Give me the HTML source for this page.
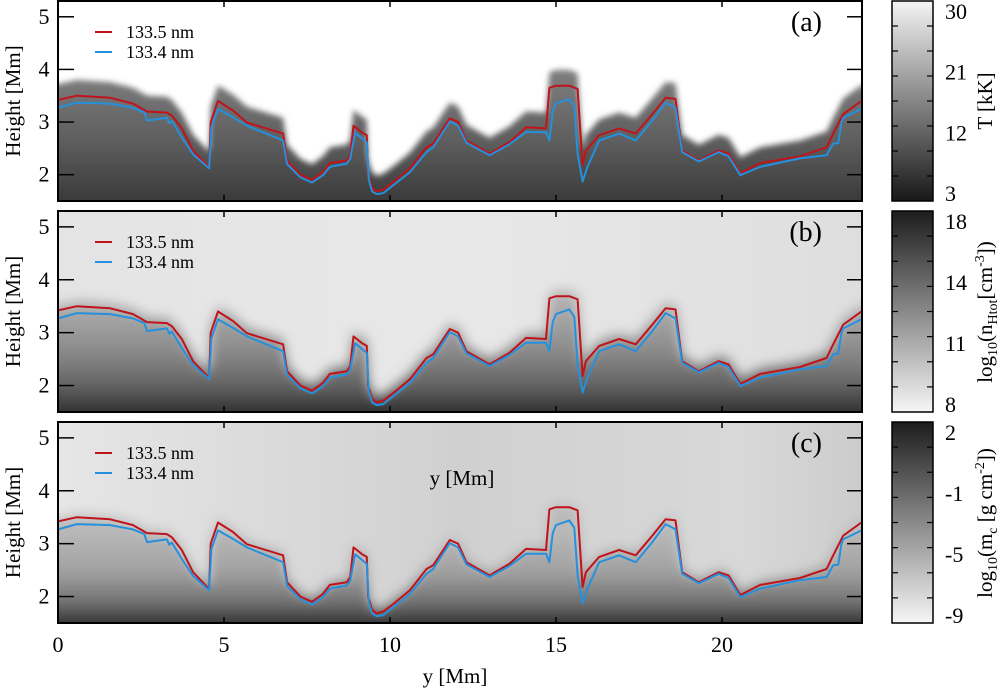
<!DOCTYPE html>
<html><head><meta charset="utf-8"><style>
html,body{margin:0;padding:0;background:#fff;}
svg{display:block;font-family:"Liberation Serif",serif;}
</style></head><body>
<svg id="fig" width="1000" height="689" viewBox="0 0 1000 689" xmlns="http://www.w3.org/2000/svg">
<defs>
<filter id="blur3" x="-5%" y="-20%" width="110%" height="140%"><feGaussianBlur stdDeviation="3"/></filter>
<filter id="blur6" x="-5%" y="-20%" width="110%" height="140%"><feGaussianBlur stdDeviation="6"/></filter>
<linearGradient id="cbA" x1="0" y1="0" x2="0" y2="1"><stop offset="0" stop-color="#f4f4f4"/><stop offset="1" stop-color="#181818"/></linearGradient>
<linearGradient id="cbB" x1="0" y1="0" x2="0" y2="1"><stop offset="0" stop-color="#1c1c1c"/><stop offset="1" stop-color="#f6f6f6"/></linearGradient>
</defs>
</svg>
<script>
// ---- data (x in Mm, height in Mm) ----
const redX = [0,0.57,1.57,2.26,2.68,3.28,3.43,3.73,4.07,4.55,4.6,4.82,5.27,5.69,6.78,6.9,7.3,7.65,7.98,8.19,8.7,8.8,8.9,9.16,9.3,9.34,9.46,9.6,9.8,10.1,10.6,11.1,11.3,11.8,12.05,12.3,13.0,13.6,14.1,14.7,14.8,15.0,15.4,15.65,15.8,15.9,16.3,16.9,17.4,17.9,18.3,18.6,18.8,19.3,19.9,20.2,20.55,21.15,22.35,23.15,23.35,23.65,24.2];
const redH = [3.42,3.5,3.46,3.35,3.2,3.18,3.12,2.88,2.46,2.14,3.0,3.4,3.22,2.99,2.78,2.27,2.0,1.9,2.05,2.22,2.27,2.37,2.93,2.8,2.75,2.0,1.75,1.68,1.72,1.86,2.12,2.52,2.59,3.07,3.0,2.65,2.4,2.62,2.9,2.88,3.65,3.69,3.69,3.63,2.18,2.46,2.75,2.88,2.78,3.15,3.46,3.44,2.46,2.27,2.46,2.4,2.03,2.22,2.35,2.52,2.78,3.15,3.4];
const blueX = [0,0.57,1.57,2.26,2.6,2.68,3.28,3.35,3.43,3.73,4.07,4.55,4.62,4.82,5.27,5.69,6.78,6.9,7.3,7.65,7.98,8.19,8.7,8.8,8.95,9.16,9.3,9.36,9.46,9.6,9.8,10.1,10.6,11.1,11.3,11.8,12.05,12.3,13.0,13.6,14.1,14.7,14.8,14.9,15.0,15.4,15.55,15.65,15.8,15.95,16.3,16.9,17.4,17.9,18.3,18.6,18.8,19.3,19.9,20.2,20.55,21.15,22.35,23.15,23.35,23.5,23.6,23.65,24.2];
const blueH = [3.27,3.37,3.35,3.27,3.18,3.03,3.08,2.98,3.02,2.71,2.39,2.12,2.9,3.25,3.09,2.93,2.65,2.2,1.95,1.85,1.99,2.15,2.21,2.3,2.8,2.69,2.62,1.9,1.68,1.63,1.65,1.8,2.05,2.43,2.52,3.01,2.93,2.61,2.37,2.58,2.81,2.81,2.65,3.2,3.35,3.44,3.3,2.4,1.87,2.15,2.65,2.78,2.65,3.03,3.37,3.27,2.43,2.25,2.43,2.35,1.99,2.15,2.31,2.37,2.59,2.6,3.0,3.08,3.25];
const xTicks = [0,5,10,15,20];
const yTicks = [2,3,4,5];
const panelLabels = ["(a)","(b)","(c)"];
const cbTickLabels = [["30","21","12","3"],["18","14","11","8"],["2","-1","-5","-9"]];

const NS="http://www.w3.org/2000/svg";
const svg=document.getElementById('fig');
function el(tag,attrs,parent){const e=document.createElementNS(NS,tag);for(const k in attrs)e.setAttribute(k,attrs[k]);(parent||svg).appendChild(e);return e;}
const X0=58,X1=862;
const HMIN=1.5,HMAX=5.3;
const panels=[{top:1,bot:201},{top:211,bot:412},{top:422,bot:623}];
function sx(v){return X0+v*33.2;}
function syf(p){return h=>p.bot-(h-HMIN)*(p.bot-p.top)/(HMAX-HMIN);}
function linePath(xs,hs,sy,off){return xs.map((v,i)=>(i?'L':'M')+sx(v).toFixed(1)+' '+sy(hs[i]+(off||0)).toFixed(1)).join(' ');}
function areaPath(xs,hs,sy,off,p){return linePath(xs,hs,sy,off)+` L ${X1+20} ${sy(hs[hs.length-1]+off)} L ${X1+20} ${p.bot+20} L ${X0-20} ${p.bot+20} L ${X0-20} ${sy(hs[0]+off)} Z`;}

const defs=svg.querySelector('defs');
panels.forEach((p,k)=>{
  const sy=syf(p);
  const cp=el('clipPath',{id:'clip'+k},defs);
  el('rect',{x:X0,y:p.top,width:X1-X0,height:p.bot-p.top},cp);
  const g=el('g',{'clip-path':`url(#clip${k})`});
  
  
  const gr=el('linearGradient',{id:'fg'+k,gradientUnits:'userSpaceOnUse',x1:0,y1:p.top,x2:0,y2:p.bot},defs);
  if(k===0){
    el('rect',{x:X0,y:p.top,width:X1-X0,height:p.bot-p.top,fill:'#ffffff'},g);
    [[0,'#9a9a9a'],[0.4,'#7a7a7a'],[0.7,'#5e5e5e'],[1,'#3a3a3a']].forEach(s=>el('stop',{offset:s[0],'stop-color':s[1]},gr));
    el('path',{d:areaPath(redX,redH,sy,0.3,p),fill:'url(#fg0)',filter:'url(#blur3)'},g);
  } else if(k===1){
    const bg=el('linearGradient',{id:'bg1',x1:0,y1:0,x2:1,y2:0},defs);
    [[0,'#e4e4e4'],[0.5,'#e8e8e8'],[1,'#dedede']].forEach(s=>el('stop',{offset:s[0],'stop-color':s[1]},bg));
    el('rect',{x:X0,y:p.top,width:X1-X0,height:p.bot-p.top,fill:'url(#bg1)'},g);
    [[0,'#c8c8c8'],[0.45,'#b0b0b0'],[0.7,'#8a8a8a'],[0.88,'#606060'],[1,'#2e2e2e']].forEach(s=>el('stop',{offset:s[0],'stop-color':s[1]},gr));
    el('path',{d:areaPath(redX,redH,sy,0.1,p),fill:'url(#fg1)',filter:'url(#blur6)'},g);
  } else {
    const bg=el('linearGradient',{id:'bg2',x1:0,y1:0,x2:1,y2:0},defs);
    [[0,'#e6e6e6'],[0.5,'#d0d0d0'],[0.85,'#d8d8d8'],[1,'#cccccc']].forEach(s=>el('stop',{offset:s[0],'stop-color':s[1]},bg));
    el('rect',{x:X0,y:p.top,width:X1-X0,height:p.bot-p.top,fill:'url(#bg2)'},g);
    [[0,'#c4c4c4'],[0.55,'#b8b8b8'],[0.75,'#a0a0a0'],[0.9,'#707070'],[1,'#333333']].forEach(s=>el('stop',{offset:s[0],'stop-color':s[1]},gr));
    el('path',{d:areaPath(redX,redH,sy,0.05,p),fill:'url(#fg2)',filter:'url(#blur6)'},g);
  }
  const r=el('path',{d:linePath(redX,redH,sy),fill:'none',stroke:'#c0141c','stroke-width':2,'stroke-linejoin':'round'},g);
  
  
  const b=el('path',{d:linePath(blueX,blueH,sy),fill:'none',stroke:'#2590dc','stroke-width':2,'stroke-linejoin':'round'},g);
  
  
  const fr=el('rect',{x:X0,y:p.top,width:X1-X0,height:p.bot-p.top,fill:'none',stroke:'#000','stroke-width':2});
  
  
  xTicks.forEach(v=>{
    el('line',{x1:sx(v),x2:sx(v),y1:p.top,y2:p.top+6,stroke:'#000','stroke-width':1.5});
    el('line',{x1:sx(v),x2:sx(v),y1:p.bot,y2:p.bot-6,stroke:'#000','stroke-width':1.5});
  });
  yTicks.forEach(v=>{
    el('line',{x1:X0,x2:X0+16,y1:sy(v),y2:sy(v),stroke:'#000','stroke-width':1.5});
    el('line',{x1:X1,x2:X1-15,y1:sy(v),y2:sy(v),stroke:'#000','stroke-width':1.5});
    const t=el('text',{x:44,y:sy(v)+7,'font-size':22,'text-anchor':'middle'});
    t.textContent=v;
    
    
  });
  const yt=el('text',{x:0,y:0,'font-size':21,'text-anchor':'middle',transform:`translate(20 ${(p.top+p.bot)/2}) rotate(-90)`});
  yt.textContent='Height [Mm]';
  
  
  const pl=el('text',{x:822,y:p.top+30,'font-size':28,'text-anchor':'end'});
  pl.textContent=panelLabels[k];
  
  
  const lg=el('g',{});
  
  
  el('line',{x1:95,x2:112,y1:p.top+31,y2:p.top+31,stroke:'#c0141c','stroke-width':2},lg);
  el('line',{x1:95,x2:112,y1:p.top+51,y2:p.top+51,stroke:'#2590dc','stroke-width':2},lg);
  const l1=el('text',{x:126,y:p.top+37,'font-size':18},lg);l1.textContent='133.5 nm';
  
  
  const l2=el('text',{x:126,y:p.top+57,'font-size':18},lg);l2.textContent='133.4 nm';
  
  
  const cb=el('rect',{x:892,y:p.top,width:41,height:p.bot-p.top,fill:k===0?'url(#cbA)':'url(#cbB)',stroke:'#000','stroke-width':1.5});
  
  
  const labs=cbTickLabels[k];
  for(let i=0;i<labs.length;i++){
    const ty=p.top+11+i*(p.bot-p.top-18)/3;
    const t=el('text',{x:945,y:ty+7,'font-size':22});
    t.textContent=labs[i];
    
    
  }
  for(let i=1;i<8;i++){
    const ty=p.top+i*(p.bot-p.top)/8;
    el('line',{x1:892,x2:898,y1:ty,y2:ty,stroke:'#000','stroke-width':1.2});
    el('line',{x1:933,x2:927,y1:ty,y2:ty,stroke:'#000','stroke-width':1.2});
  }
});
xTicks.forEach(v=>{
  const t=el('text',{x:sx(v),y:652,'font-size':22,'text-anchor':'middle'});
  t.textContent=v;
  
  
});
const xt=el('text',{x:455,y:683,'font-size':21,'text-anchor':'middle'});
xt.textContent='y [Mm]';


const stray=el('text',{x:462,y:485,'font-size':21,'text-anchor':'middle'});
stray.textContent='y [Mm]';


function cbTitle(y,html,name){
  const t=el('text',{x:0,y:0,'font-size':21,'text-anchor':'middle',transform:`translate(992 ${y}) rotate(-90)`});
  t.innerHTML=html;
  
  
}
cbTitle(101,'T [kK]','colorbar-a-title');
cbTitle(312,'log<tspan font-size="14" dy="5">10</tspan><tspan dy="-5">(n</tspan><tspan font-size="14" dy="5">Htot</tspan><tspan dy="-5">[cm</tspan><tspan font-size="14" dy="-8">-3</tspan><tspan dy="8">])</tspan>','colorbar-b-title');
cbTitle(523,'log<tspan font-size="14" dy="5">10</tspan><tspan dy="-5">(m</tspan><tspan font-size="14" dy="5">c</tspan><tspan dy="-5"> [g cm</tspan><tspan font-size="14" dy="-8">-2</tspan><tspan dy="8">])</tspan>','colorbar-c-title');
</script>
</body></html>
